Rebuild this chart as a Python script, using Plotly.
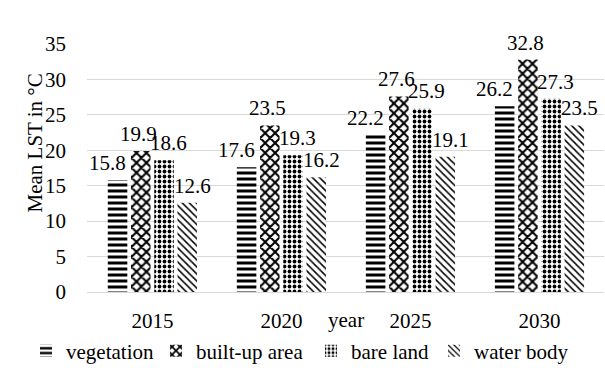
import plotly.graph_objects as go

years = ["2015", "2020", "2025", "2030"]
series_names = ["vegetation", "built-up area", "bare land", "water body"]
vegetation = [15.8, 17.6, 22.2, 26.2]
built_up = [19.9, 23.5, 27.6, 32.8]
bare_land = [18.6, 19.3, 25.9, 27.3]
water_body = [12.6, 16.2, 19.1, 23.5]
y_ticks = [0, 5, 10, 15, 20, 25, 30, 35]

values = [vegetation, built_up, bare_land, water_body]
patterns = [
    dict(shape="-", size=6, solidity=0.5),
    dict(shape="x", size=7, solidity=0.5),
    dict(shape=".", size=5, solidity=0.45),
    dict(shape="\\", size=5, solidity=0.3),
]
label_nudge = [-10, -2, 4, 5]
legend_text_px = [67, 197, 352, 475]   # where each legend entry's text starts

FONT = "'Liberation Serif', 'Times New Roman', 'DejaVu Serif', serif"
FS = 21
W, H = 605, 368
ML, MR, MT, MB = 87, 1, 44, 76
BARGAP = 0.28
plot_w = W - ML - MR
plot_h = H - MT - MB

fig = go.Figure()
legend_ids = ["legend", "legend2", "legend3", "legend4"]
for name, vals, pat, lid in zip(series_names, values, patterns, legend_ids):
    fig.add_trace(go.Bar(
        x=years, y=vals, name=name, legend=lid,
        marker=dict(color="white", line=dict(width=0),
                    pattern=dict(fgcolor="black", bgcolor="white", fillmode="replace", **pat)),
    ))

cat_w = plot_w / len(years)
slot = cat_w * (1 - BARGAP) / len(series_names)
for i, vals in enumerate(values):
    off = (i - (len(series_names) - 1) / 2) * slot + label_nudge[i]
    for j, v in enumerate(vals):
        fig.add_annotation(x=j, y=v, xref="x", yref="y", text=f"{v:.1f}",
                           showarrow=False, xshift=off, yshift=3, yanchor="bottom",
                           font=dict(family=FONT, size=FS, color="black"))

fig.add_annotation(x=0.5, y=-0.114, xref="paper", yref="paper", text="year",
                   showarrow=False, yanchor="middle", xanchor="center",
                   font=dict(family=FONT, size=FS, color="black"))
fig.add_annotation(x=-0.1, y=0.6, xref="paper", yref="paper", text="Mean LST in °C",
                   showarrow=False, textangle=-90, yanchor="middle", xanchor="center",
                   font=dict(family=FONT, size=FS, color="black"))

legend_y = (MT + plot_h - 351) / plot_h
legends = {}
for lid, tx in zip(legend_ids, legend_text_px):
    legends[lid] = dict(orientation="h", xref="paper", yref="paper",
                        x=(tx - 41 - ML) / plot_w, y=legend_y,
                        xanchor="left", yanchor="middle",
                        bgcolor="rgba(0,0,0,0)",
                        font=dict(family=FONT, size=FS, color="black"),
                        itemwidth=30)

fig.update_layout(
    width=W, height=H,
    margin=dict(l=ML, r=MR, t=MT, b=MB, autoexpand=False),
    paper_bgcolor="white", plot_bgcolor="white",
    barmode="group", bargap=BARGAP, bargroupgap=0.16,
    font=dict(family=FONT, size=FS, color="black"),
    showlegend=True,
    xaxis=dict(type="category", showgrid=False, showline=True, linecolor="#d9d9d9", linewidth=1,
               ticks="", ticklabelstandoff=10, tickfont=dict(family=FONT, size=FS)),
    yaxis=dict(range=[0, 35], tickvals=y_ticks, showgrid=True, gridcolor="#d9d9d9",
               gridwidth=1, zeroline=False, showline=False, ticks="",
               ticklabelstandoff=20, tickfont=dict(family=FONT, size=FS)),
    **legends,
)

fig.write_html("out.html", config={"displayModeBar": False},
               post_script="document.body.style.margin='0';document.body.style.overflow='hidden';")
